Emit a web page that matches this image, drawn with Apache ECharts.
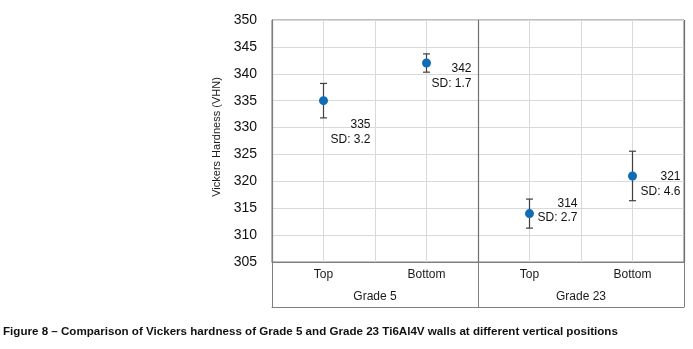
<!DOCTYPE html>
<html>
<head>
<meta charset="utf-8">
<script src="https://cdn.jsdelivr.net/npm/echarts@6/dist/echarts.min.js"></script>
<style>
  html, body { margin: 0; padding: 0; background: #fff; }
  #main { width: 693px; height: 349px; }
</style>
</head>
<body>
<div id="main"></div>
<script>
// positions on a 0..8 x scale, one slot per sample
var positions = ['Top', 'Bottom', 'Top', 'Bottom'];
var grades = ['Grade 5', 'Grade 23'];
var xSlots = [1, 3, 5, 7];
var hardness = [335, 342, 314, 321];
var sd = [3.2, 1.7, 2.7, 4.6];
var yTicks = [305, 310, 315, 320, 325, 330, 335, 340, 345, 350];

var myChart = echarts.init(document.getElementById('main'));

// label offsets (right edge / top of the text block relative to the dot)
var labelOffsets = [[47, 17], [45, -1.5], [48, -17.5], [48, -6.5]];

var points = hardness.map(function (v, i) {
  return {
    value: [xSlots[i], v],
    label: { offset: labelOffsets[i] }
  };
});
var bars = hardness.map(function (v, i) {
  return [xSlots[i], v - sd[i], v + sd[i]];
});

var lineDark = '#7f7f7f';
var font = 'Liberation Sans, Arial, sans-serif';

option = {
  animation: false,
  grid: {
    left: 272, right: 9, top: 20, bottom: 87,
    show: true, borderColor: lineDark, borderWidth: 1
  },
  xAxis: [
    {
      type: 'value', min: 0, max: 8, interval: 1,
      axisLine: { show: false },
      axisTick: { show: false },
      splitLine: { show: true, lineStyle: { color: '#d9d9d9' } },
      axisLabel: {
        margin: 7, fontFamily: font, fontSize: 12, color: '#1a1a1a',
        formatter: function (v) {
          var i = xSlots.indexOf(v);
          return i >= 0 ? positions[i] : '';
        }
      }
    },
    {
      type: 'value', min: 0, max: 8, interval: 2, position: 'bottom', offset: 45,
      axisLine: { show: true, lineStyle: { color: lineDark } },
      axisTick: { show: false },
      splitLine: { show: false },
      axisLabel: {
        inside: true, margin: 4, fontFamily: font, fontSize: 12, color: '#1a1a1a',
        formatter: function (v) {
          if (v === 2) return grades[0];
          if (v === 6) return grades[1];
          return '';
        }
      }
    },
    {
      type: 'value', min: 0, max: 8, interval: 4, position: 'bottom',
      axisLine: { show: true, lineStyle: { color: lineDark } },
      axisTick: { show: true, length: 45, lineStyle: { color: lineDark } },
      splitLine: { show: true, lineStyle: { color: '#6f6f6f', width: 1.2 } },
      axisLabel: { show: false }
    }
  ],
  yAxis: {
    type: 'value', min: 305, max: 350, interval: 5,
    name: 'Vickers Hardness (VHN)',
    nameLocation: 'middle', nameGap: 42,
    nameTextStyle: { fontFamily: font, fontSize: 11, color: '#1a1a1a', padding: [0, 0, 0, 8] },
    axisLine: { show: true, lineStyle: { color: lineDark } },
    axisTick: { show: false },
    splitLine: { show: true, lineStyle: { color: '#d9d9d9' } },
    axisLabel: {
      margin: 15, fontFamily: font, fontSize: 14, color: '#111',
      formatter: function (v) { return yTicks.indexOf(v) >= 0 ? String(v) : ''; }
    }
  },
  series: [
    {
      type: 'custom',
      renderItem: function (params, api) {
        var x = api.value(0);
        var lo = api.coord([x, api.value(1)]);
        var hi = api.coord([x, api.value(2)]);
        var w = 3.5;
        var st = { stroke: '#404040', lineWidth: 1.2 };
        return {
          type: 'group',
          children: [
            { type: 'line', shape: { x1: lo[0], y1: lo[1], x2: hi[0], y2: hi[1] }, style: st },
            { type: 'line', shape: { x1: lo[0] - w, y1: lo[1], x2: lo[0] + w, y2: lo[1] }, style: st },
            { type: 'line', shape: { x1: hi[0] - w, y1: hi[1], x2: hi[0] + w, y2: hi[1] }, style: st }
          ]
        };
      },
      data: bars,
      z: 3
    },
    {
      type: 'scatter',
      symbolSize: 9,
      itemStyle: { color: '#0f6cb6', opacity: 1 },
      z: 4,
      label: {
        show: true,
        position: 'inside',
        align: 'right',
        verticalAlign: 'top',
        fontFamily: font,
        fontSize: 12,
        lineHeight: 14.5,
        color: '#111',
        formatter: function (p) {
          return hardness[p.dataIndex] + '\nSD: ' + sd[p.dataIndex];
        }
      },
      data: points
    }
  ],
  graphic: [
    {
      type: 'text', left: 3, top: 326,
      style: {
        text: 'Figure 8 \u2013 Comparison of Vickers hardness of Grade 5 and Grade 23 Ti6Al4V walls at different vertical positions',
        fontFamily: font, fontSize: 11.6, fontWeight: 'bold', fill: '#111'
      }
    }
  ]
};
myChart.setOption(option);
window.addEventListener('resize', function () { myChart.resize(); });
</script>
</body>
</html>
